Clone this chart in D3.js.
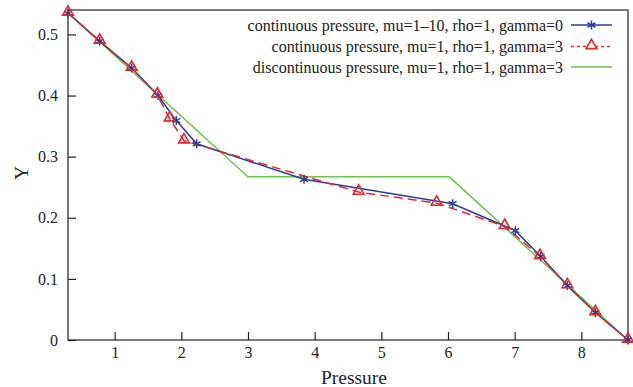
<!DOCTYPE html>
<html>
<head>
<meta charset="utf-8">
<script src="https://cdn.jsdelivr.net/npm/d3@7"></script>
<style>
  body { margin: 0; background: #fff; }
</style>
</head>
<body>
<div id="chart"></div>
<script>
// data
var blueX = [0.3, 0.775, 1.255, 1.65, 1.925, 2.23, 3.84, 6.07, 7.01, 7.39, 7.79, 8.21, 8.7];
var blueY = [0.535, 0.489, 0.445, 0.400, 0.359, 0.321, 0.263, 0.223, 0.179, 0.137, 0.089, 0.045, 0];

var redX = [0.3, 0.775, 1.255, 1.64, 1.825, 2.04, 4.66, 5.83, 6.85, 7.38, 7.79, 8.21, 8.7];
var redY = [0.535, 0.489, 0.445, 0.401, 0.362, 0.326, 0.242, 0.224, 0.186, 0.137, 0.089, 0.045, 0];

var greenX = [0.3, 1.65, 3.0, 6.02, 8.7];
var greenY = [0.535, 0.401, 0.267, 0.267, 0];

var legendLabels = [
    "continuous pressure, mu=1\u201310, rho=1, gamma=0",
    "continuous pressure, mu=1, rho=1, gamma=3",
    "discontinuous pressure, mu=1, rho=1, gamma=3"
];

var xTicks = [1, 2, 3, 4, 5, 6, 7, 8];
var yTicks = [0, 0.1, 0.2, 0.3, 0.4, 0.5];

var svgWidth = 633;
var svgHeight = 387;

var margin = { top: 10, right: 5, bottom: 47, left: 68 };
var width = svgWidth - margin.left - margin.right;
var height = svgHeight - margin.top - margin.bottom;

var blue = "#2a3d9e", red = "#e4262b", green = "#6cc24a";
var serif = "'Liberation Serif', 'Times New Roman', Times, serif";

var svg = d3.select("#chart")
    .append("svg")
    .attr("width", svgWidth)
    .attr("height", svgHeight)
    .attr("font-family", serif);

var chartGroup = svg.append("g")
    .attr("transform", `translate(${margin.left}, ${margin.top})`);

var xScale = d3.scaleLinear().domain([0.3, 8.7]).range([0, width]);
var yScale = d3.scaleLinear().domain([0, 0.54]).range([height, 0]);

// axes with inward ticks
var bottomAxis = d3.axisBottom(xScale).tickValues(xTicks).tickSize(-8).tickPadding(7).tickFormat(d3.format("d"));
var leftAxis = d3.axisLeft(yScale).tickValues(yTicks).tickSize(-8).tickPadding(10)
    .tickFormat(function(d) { return d === 0 ? "0" : d3.format(".1f")(d); });

var gx = chartGroup.append("g")
    .attr("transform", `translate(0, ${height})`)
    .call(bottomAxis);
var gy = chartGroup.append("g").call(leftAxis);

[gx, gy].forEach(function(g) {
    g.attr("font-family", serif).attr("font-size", 16);
    g.select(".domain").remove();
    g.selectAll(".tick line").attr("stroke", "#222").attr("stroke-width", 1.2);
    g.selectAll(".tick text").attr("fill", "#222");
});

// frame
chartGroup.append("rect")
    .attr("width", width).attr("height", height)
    .attr("fill", "none").attr("stroke", "#222").attr("stroke-width", 1.2);

// axis titles
svg.append("text")
    .attr("x", 354).attr("y", 384)
    .attr("text-anchor", "middle").attr("font-size", 19.5).attr("fill", "#222").text("Pressure");
svg.append("text")
    .attr("transform", "translate(28, 173) rotate(-90)")
    .attr("text-anchor", "middle").attr("font-size", 19.5).attr("fill", "#222").text("Y");

function toPoints(xs, ys) {
    return xs.map(function(x, i) { return [x, ys[i]]; });
}
var line = d3.line().x(d => xScale(d[0])).y(d => yScale(d[1]));

var blueData = toPoints(blueX, blueY);
var redData = toPoints(redX, redY);
var greenData = toPoints(greenX, greenY);

chartGroup.append("path").datum(greenData)
    .attr("d", line).attr("fill", "none").attr("stroke", green).attr("stroke-width", 1.5);
chartGroup.append("path").datum(blueData)
    .attr("d", line).attr("fill", "none").attr("stroke", blue).attr("stroke-width", 1.5);
chartGroup.append("path").datum(redData)
    .attr("d", line).attr("fill", "none").attr("stroke", red).attr("stroke-width", 1.5)
    .attr("stroke-dasharray", "9,5");

// markers
function star(g, cx, cy) {
    var r = 4.5;
    [90, 30, -30].forEach(function(a) {
        var rad = a * Math.PI / 180;
        g.append("line")
            .attr("x1", cx - r * Math.cos(rad)).attr("y1", cy - r * Math.sin(rad))
            .attr("x2", cx + r * Math.cos(rad)).attr("y2", cy + r * Math.sin(rad))
            .attr("stroke", blue).attr("stroke-width", 1.5);
    });
}
var triangle = d3.symbol().type(d3.symbolTriangle).size(50);

var markerG = chartGroup.append("g");
blueData.forEach(function(d) { star(markerG, xScale(d[0]), yScale(d[1])); });
markerG.selectAll(".tri").data(redData).enter().append("path")
    .attr("d", triangle)
    .attr("transform", d => `translate(${xScale(d[0])}, ${yScale(d[1]) - 1})`)
    .attr("fill", "none").attr("stroke", red).attr("stroke-width", 1.6);

// legend
var legendG = svg.append("g");
var rowsY = [25, 46.5, 67];
legendLabels.forEach(function(t, i) {
    legendG.append("text")
        .attr("x", 563).attr("y", rowsY[i]).attr("dy", "0.35em")
        .attr("text-anchor", "end").attr("font-size", 16).attr("fill", "#222").text(t);
});
legendG.append("line").attr("x1", 571).attr("x2", 612).attr("y1", rowsY[0]).attr("y2", rowsY[0])
    .attr("stroke", blue).attr("stroke-width", 1.5);
star(legendG, 591.5, rowsY[0]);
legendG.append("line").attr("x1", 571).attr("x2", 612).attr("y1", rowsY[1]).attr("y2", rowsY[1])
    .attr("stroke", red).attr("stroke-width", 1.5).attr("stroke-dasharray", "3,3");
legendG.append("path").attr("d", triangle)
    .attr("transform", `translate(591.5, ${rowsY[1] - 1})`)
    .attr("fill", "#fff").attr("stroke", red).attr("stroke-width", 1.6);
legendG.append("line").attr("x1", 571).attr("x2", 612).attr("y1", rowsY[2]).attr("y2", rowsY[2])
    .attr("stroke", green).attr("stroke-width", 1.5);
</script>
</body>
</html>
